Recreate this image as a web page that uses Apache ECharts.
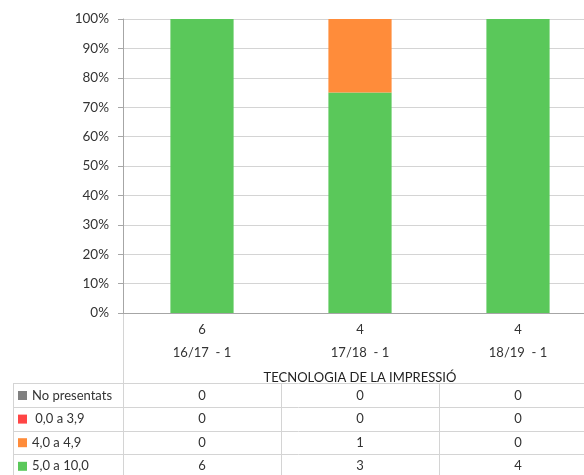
<!DOCTYPE html>
<html>
<head>
<meta charset="utf-8">
<script src="https://cdn.jsdelivr.net/npm/echarts@6/dist/echarts.min.js"></script>
<style>
  html, body { margin: 0; padding: 0; background: #fff; }
</style>
</head>
<body>
<div id="chart" style="width:584px;height:475px"></div>
<script>
// dades
var categories = ['16/17  - 1', '17/18  - 1', '18/19  - 1']
var totals = [6, 4, 4]
var rowNames = ['No presentats', ' 0,0 a 3,9', '4,0 a 4,9', '5,0 a 10,0']
var noPresentats = [0, 0, 0]
var suspens = [0, 0, 0]
var aprovatBaix = [0, 1, 0]
var aprovat = [6, 3, 4]
var yTicks = [0, 10, 20, 30, 40, 50, 60, 70, 80, 90, 100]

var rows = [noPresentats, suspens, aprovatBaix, aprovat]
var colors = ['#808080', '#ff4545', '#ff8c3a', '#5ac85a']

function pct (arr, i) {
  return totals[i] ? arr[i] / totals[i] * 100 : 0
}

var myChart = echarts.init(document.getElementById('chart'))
var font = 'Lato, "Open Sans", sans-serif'
var txt = '#333'
var lineCol = '#d4d4d4'
var fs = 13
var rowH = 23.6

// eixos extra per a les files de la taula
var tableAxes = rows.map(function (r, k) {
  return {
    type: 'category',
    gridIndex: 0,
    position: 'bottom',
    offset: 70 + k * rowH,
    data: categories,
    axisLine: { show: false },
    axisTick: k === 0 ? { show: true, length: 96, lineStyle: { color: lineCol } } : { show: false },
    axisLabel: {
      margin: 6,
      fontFamily: font,
      fontSize: fs,
      color: txt,
      formatter: function (v, i) { return String(r[i]) }
    }
  }
})

// una llegenda per fila
var legends = rowNames.map(function (name, k) {
  return {
    orient: 'vertical',
    left: 18,
    top: 389 + k * rowH,
    itemWidth: 9,
    itemHeight: 9,
    itemGap: 0,
    icon: 'rect',
    padding: 0,
    selectedMode: false,
    data: [name],
    textStyle: { fontFamily: font, fontSize: fs, color: txt }
  }
})

// series: de baix a dalt
var seriesOrder = [3, 2, 1, 0]
var series = seriesOrder.map(function (k) {
  return {
    name: rowNames[k],
    type: 'bar',
    stack: 'total',
    barWidth: '40%',
    xAxisIndex: 0,
    itemStyle: { color: colors[k] },
    data: rows[k].map(function (v, i) { return pct(rows[k], i) })
  }
})

myChart.setOption({
  animation: false,
  grid: { left: 123, top: 19, width: 474, height: 294, containLabel: false, outerBoundsMode: 'none' },
  legend: legends,
  xAxis: [{
    type: 'category',
    data: categories,
    name: 'TECNOLOGIA DE LA IMPRESSIÓ',
    nameLocation: 'middle',
    nameGap: 58,
    nameTextStyle: { fontFamily: font, fontSize: fs, color: '#222' },
    axisLine: { lineStyle: { color: '#a6a6a6' } },
    axisTick: { length: 47, lineStyle: { color: lineCol } },
    axisLabel: {
      margin: 5,
      fontFamily: font,
      fontSize: fs,
      color: txt,
      lineHeight: 23,
      formatter: function (v, i) { return totals[i] + '\n' + v }
    }
  }].concat(tableAxes),
  yAxis: {
    type: 'value',
    min: yTicks[0],
    max: yTicks[yTicks.length - 1],
    interval: 10,
    axisLine: { show: true, lineStyle: { color: '#a6a6a6' } },
    axisTick: { show: true, length: 5, lineStyle: { color: '#a6a6a6' } },
    splitLine: { lineStyle: { color: lineCol } },
    axisLabel: {
      margin: 14,
      fontFamily: font,
      fontSize: 13.5,
      color: txt,
      formatter: '{value}%'
    }
  },
  graphic: [
    { type: 'line', shape: { x1: 13, y1: 383.5, x2: 584, y2: 383.5 }, style: { stroke: lineCol } },
    { type: 'line', shape: { x1: 13, y1: 407.5, x2: 584, y2: 407.5 }, style: { stroke: lineCol } },
    { type: 'line', shape: { x1: 13, y1: 431.5, x2: 584, y2: 431.5 }, style: { stroke: lineCol } },
    { type: 'line', shape: { x1: 13, y1: 454.5, x2: 584, y2: 454.5 }, style: { stroke: lineCol } },
    { type: 'line', shape: { x1: 13.5, y1: 383, x2: 13.5, y2: 475 }, style: { stroke: lineCol } },
    { type: 'line', shape: { x1: 123.5, y1: 313, x2: 123.5, y2: 384 }, style: { stroke: lineCol } }
  ],
  series: series
})
</script>
</body>
</html>
